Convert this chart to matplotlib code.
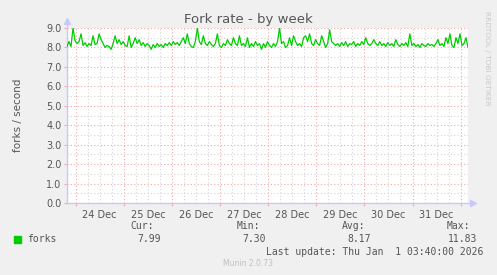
import matplotlib
matplotlib.use("Agg")
import matplotlib.pyplot as plt
import matplotlib.dates as mdates
import numpy as np

# hourly fork rate, 23 Dec 19:40 -> 1 Jan 03:40
forks = [
    8.05, 8.30, 8.05, 9.00, 8.35, 8.20, 8.30, 8.70, 8.10, 8.25,
    8.05, 8.20, 8.10, 8.60, 8.15, 8.20, 8.70, 8.40, 8.20, 8.00,
    8.10, 8.05, 7.90, 8.20, 8.60, 8.20, 8.40, 8.15, 8.30, 8.10,
    8.05, 8.60, 8.00, 8.20, 8.50, 8.20, 8.40, 8.10, 8.25, 8.05,
    8.20, 8.10, 7.90, 8.15, 8.00, 8.20, 8.05, 8.15, 8.00, 8.20,
    8.10, 8.25, 8.10, 8.30, 8.15, 8.25, 8.10, 8.30, 8.50, 8.20,
    8.70, 8.20, 8.05, 8.00, 8.30, 9.00, 8.30, 8.15, 8.60, 8.20,
    8.10, 8.30, 8.15, 8.05, 8.20, 8.70, 8.10, 8.00, 8.20, 8.10,
    8.40, 8.20, 8.10, 8.50, 8.20, 8.10, 8.60, 8.10, 8.20, 8.05,
    8.50, 8.00, 8.20, 8.05, 8.30, 8.10, 8.20, 7.90, 8.20, 8.00,
    8.30, 8.10, 8.00, 8.20, 8.05, 8.30, 9.00, 8.20, 8.30, 8.00,
    8.10, 8.50, 8.10, 8.60, 8.30, 8.10, 8.20, 8.05, 8.50, 8.60,
    8.30, 8.70, 8.20, 8.10, 8.40, 8.20, 8.10, 8.60, 8.30, 8.00,
    8.20, 8.90, 8.30, 8.20, 8.10, 8.20, 8.05, 8.25, 8.10, 8.30,
    8.05, 8.20, 8.15, 8.30, 8.05, 8.20, 8.10, 8.30, 8.15, 8.50,
    8.20, 8.10, 8.20, 8.40, 8.20, 8.10, 8.30, 8.10, 8.20, 8.05,
    8.25, 8.10, 8.20, 8.05, 8.40, 8.15, 8.05, 8.20, 8.10, 8.25,
    8.05, 8.70, 8.10, 8.20, 8.05, 8.15, 8.00, 8.20, 8.10, 8.05,
    8.20, 8.10, 8.15, 8.05, 8.20, 8.40, 8.10, 8.20, 8.05, 8.50,
    8.20, 8.70, 8.10, 8.00, 8.50, 8.20, 8.70, 8.10, 8.20, 8.50,
    8.00,
]
start = np.datetime64("2025-12-23T19:40")
end = np.datetime64("2026-01-01T03:40")
times = start + np.arange(len(forks)) * np.timedelta64(1, "h")

days = [24, 25, 26, 27, 28, 29, 30, 31]
legend_heads = ["Cur:", "Min:", "Avg:", "Max:"]
legend_vals = ["7.99", "7.30", "8.17", "11.83"]

txt = "#555555"
axis_col = "#C8C8FF"
major_col = "#F0A8A8"
minor_col = "#D4D4D4"

fig = plt.figure(figsize=(4.97, 2.75), dpi=100, facecolor="#F0F0F0")
W, H = 497, 275
ax = fig.add_axes([67 / W, 72 / H, 401 / W, 175 / H])
ax.set_facecolor("white")

ax.plot(times, forks, color="#00CC00", lw=0.9, zorder=3)

ax.set_xlim(start, end)
ax.set_ylim(0, 9)

ax.set_yticks(np.arange(0, 9.01, 1.0))
ax.set_yticks(np.arange(0, 9.01, 0.5), minor=True)
ax.set_yticklabels(["%.1f" % v for v in np.arange(0, 9.01, 1.0)])

ax.xaxis.set_major_locator(mdates.HourLocator(byhour=[0]))
ax.xaxis.set_minor_locator(mdates.HourLocator(byhour=[6, 12, 18]))
ax.xaxis.set_major_formatter(plt.NullFormatter())
ax.grid(True, which="major", color=major_col, ls=(0, (1, 2)), lw=0.8)
ax.grid(True, which="minor", color=minor_col, ls=(0, (1, 2)), lw=0.8)
ax.set_axisbelow(True)

ax.tick_params(axis="y", which="major", length=2, color=major_col, labelcolor=txt, labelsize=7, pad=2)
ax.tick_params(axis="y", which="minor", length=0)
ax.tick_params(axis="x", which="major", length=2, color=major_col)
ax.tick_params(axis="x", which="minor", length=0)

# day labels sit at noon, between the midnight lines
for d in days:
    t = np.datetime64("2025-12-%02dT12:00" % d)
    ax.text(t, -0.35, "%d Dec" % d, ha="center", va="top", fontsize=7, color=txt)

for s in ["top", "right", "left", "bottom"]:
    ax.spines[s].set_visible(False)
ax.plot([0, 0], [0, 1.035], transform=ax.transAxes, color=axis_col, lw=1, clip_on=False)
ax.plot([0, 1.01], [0, 0], transform=ax.transAxes, color=axis_col, lw=1, clip_on=False)
ax.plot([0], [1.04], marker="^", ms=4, color=axis_col, transform=ax.transAxes, clip_on=False)
ax.plot([1.012], [0], marker=">", ms=4, color=axis_col, transform=ax.transAxes, clip_on=False)

fig.text(248 / W, 1 - 19 / H, "Fork rate - by week", ha="center", va="center", fontsize=9.5, color=txt)
fig.text(18 / W, 1 - 115 / H, "forks / second", rotation=90, ha="center", va="center", fontsize=7.5, color=txt)
fig.text(487 / W, 1 - 58 / H, "RRDTOOL / TOBI OETIKER", rotation=270, ha="center", va="center",
         fontsize=5.3, color="#C8C8C8")

mono = "DejaVu Sans Mono"
fig.patches.append(plt.Rectangle((14 / W, 1 - 243 / H), 7 / W, 7 / H, transform=fig.transFigure,
                                 color="#00CC00"))
fig.text(27 / W, 1 - 239 / H, "forks", ha="left", va="center", fontsize=7, family=mono, color=txt)
head_x = [154, 260, 365, 470]
val_x = [161, 266, 371, 477]
for h, v, hx, vx in zip(legend_heads, legend_vals, head_x, val_x):
    fig.text(hx / W, 1 - 226 / H, h, ha="right", va="center", fontsize=7, family=mono, color=txt)
    fig.text(vx / W, 1 - 239 / H, v, ha="right", va="center", fontsize=7, family=mono, color=txt)
fig.text(483 / W, 1 - 252 / H, "Last update: Thu Jan  1 03:40:00 2026", ha="right", va="center",
         fontsize=7, family=mono, color=txt)
fig.text(248 / W, 1 - 264 / H, "Munin 2.0.73", ha="center", va="center", fontsize=5.5, color="#C0C0C0")

fig.savefig("out.png", dpi=100, facecolor=fig.get_facecolor())
